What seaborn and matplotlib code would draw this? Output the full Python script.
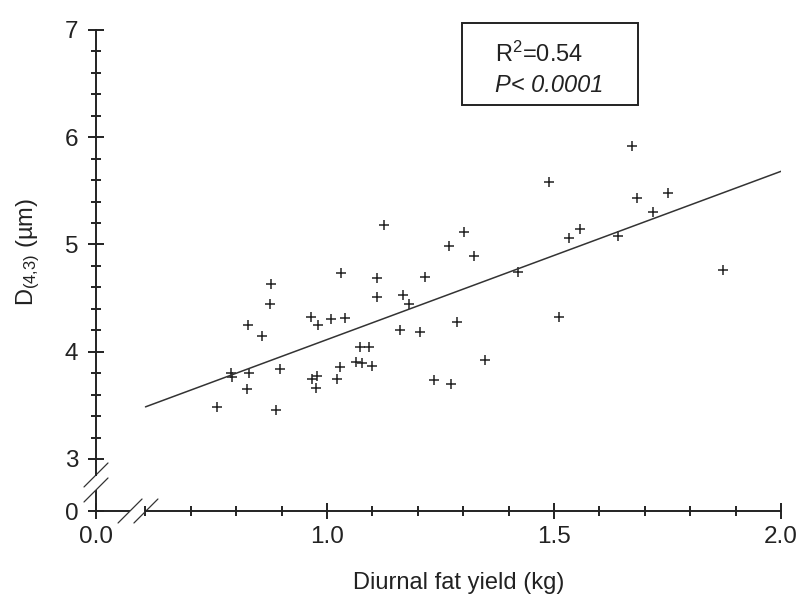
import numpy as np
import pandas as pd
import matplotlib
matplotlib.use("Agg")
import matplotlib.pyplot as plt
from matplotlib.patches import Rectangle
from matplotlib.ticker import FixedLocator, FixedFormatter
import seaborn as sns

# diurnal fat yield (kg) and D(4,3) (um)
fat_yield = [1.126, 1.302, 1.268, 1.324, 1.030, 1.109, 1.215, 0.877, 1.109, 1.167,
             1.180, 0.875, 0.964, 0.981, 1.008, 1.040, 0.825, 0.856, 1.161, 1.205,
             1.287, 1.073, 1.093, 1.063, 1.076, 1.099, 1.028, 0.788, 0.790, 0.829,
             0.897, 0.966, 0.977, 0.976, 1.023, 0.824, 1.236, 1.272, 0.758, 0.888,
             1.672, 1.490, 1.682, 1.750, 1.717, 1.557, 1.532, 1.640, 1.421, 1.873,
             1.512, 1.349]
d43 = [5.182, 5.114, 4.989, 4.896, 4.731, 4.685, 4.697, 4.635, 4.508, 4.532,
       4.445, 4.448, 4.327, 4.249, 4.303, 4.315, 4.252, 4.144, 4.200, 4.187,
       4.277, 4.047, 4.047, 3.907, 3.892, 3.870, 3.861, 3.799, 3.762, 3.805,
       3.836, 3.743, 3.774, 3.659, 3.746, 3.656, 3.734, 3.702, 3.485, 3.454,
       5.921, 5.580, 5.431, 5.477, 5.300, 5.145, 5.061, 5.079, 4.744, 4.762,
       4.327, 3.923]

r_squared = "0.54"
p_text = "0.0001"

x_major = [1.0, 1.5, 2.0]
x_minor = [0.6, 0.7, 0.8, 0.9, 1.1, 1.2, 1.3, 1.4, 1.6, 1.7, 1.8, 1.9]
y_major = [3, 4, 5, 6, 7]
y_minor = [3.2, 3.4, 3.6, 3.8, 4.2, 4.4, 4.6, 4.8, 5.2, 5.4, 5.6, 5.8,
           6.2, 6.4, 6.6, 6.8]

# broken axes: where the "0" labels sit and where the breaks are
x_origin, y_origin = 0.491, 2.515
x_breaks = [0.566, 0.601]
y_breaks = [2.711, 2.851]

sns.set_theme(style="ticks")
plt.rcParams["font.family"] = ["Liberation Sans", "DejaVu Sans"]
plt.rcParams["mathtext.fontset"] = "custom"
plt.rcParams["mathtext.rm"] = "Liberation Sans"
plt.rcParams["mathtext.it"] = "Liberation Sans:italic"

ink = "#222222"
fig = plt.figure(figsize=(8.06, 6.01), dpi=100)
ax = fig.add_axes([96 / 806, 90 / 601, 685 / 806, 481 / 601])

df = pd.DataFrame({"fat": fat_yield, "d43": d43})
sns.scatterplot(data=df, x="fat", y="d43", marker="+", s=45, color=ink,
                linewidth=1.1, ax=ax, legend=False)

slope, intercept = np.polyfit(fat_yield, d43, 1)
line_x = np.array([0.6, 2.0])
ax.plot(line_x, intercept + slope * line_x, color="#333333", lw=1.1)

ax.set_xlim(x_origin, 2.0)
ax.set_ylim(y_origin, 7.0)

sns.despine(ax=ax)
for side in ("left", "bottom"):
    ax.spines[side].set_linewidth(1.4)
    ax.spines[side].set_color(ink)
ax.spines["left"].set_bounds(y_breaks[1], 7.0)
ax.spines["bottom"].set_bounds(x_breaks[1], 2.0)
ax.plot([x_origin, x_origin], [y_origin, y_breaks[0]], color=ink, lw=1.4,
        clip_on=False, solid_capstyle="butt")
ax.plot([x_origin, x_breaks[0]], [y_origin, y_origin], color=ink, lw=1.4,
        clip_on=False, solid_capstyle="butt")

# break marks
hx, hy = 12 / 454, 12 / 107.25
for yb in y_breaks:
    ax.plot([x_origin - hx, x_origin + hx], [yb - hy, yb + hy], color="#333333",
            lw=0.9, clip_on=False)
for xb in x_breaks:
    ax.plot([xb - hx, xb + hx], [y_origin - hy, y_origin + hy], color="#333333",
            lw=0.9, clip_on=False)

ax.xaxis.set_major_locator(FixedLocator([x_origin] + x_major))
ax.xaxis.set_major_formatter(FixedFormatter(["0.0"] + [f"{v:.1f}" for v in x_major]))
ax.xaxis.set_minor_locator(FixedLocator(x_minor))
ax.yaxis.set_major_locator(FixedLocator([y_origin] + y_major))
ax.yaxis.set_major_formatter(FixedFormatter(["0"] + [str(v) for v in y_major]))
ax.yaxis.set_minor_locator(FixedLocator(y_minor))

ax.tick_params(which="major", direction="inout", length=11.5, width=1.4,
               color=ink, labelsize=17.5, labelcolor=ink)
ax.tick_params(which="minor", direction="inout", length=7.2, width=1.4, color=ink)
ax.tick_params(axis="y", which="major", pad=7)
ax.tick_params(axis="x", which="major", pad=5)

ax.set_xlabel("Diurnal fat yield (kg)", fontsize=17, color=ink)
ax.set_ylabel(r"D$_{\mathregular{(4{,}3)}}$ (µm)", fontsize=17, color=ink)
ax.xaxis.set_label_coords(0.530, -0.127)
ax.yaxis.set_label_coords(-0.079, 0.5385)

ax.add_patch(Rectangle((0.5343, 0.8441), 0.2569, 0.1705, transform=ax.transAxes,
                       fill=False, edgecolor=ink, lw=1.4, clip_on=False))
ax.text(0.5825, 0.9335, r"R$^{2}$=" + r_squared, transform=ax.transAxes,
        fontsize=17, color=ink, va="baseline")
ax.text(0.5825, 0.871, "P< " + p_text, transform=ax.transAxes, fontsize=17,
        color=ink, va="baseline", fontstyle="italic")

fig.savefig("out.png", dpi=100)
